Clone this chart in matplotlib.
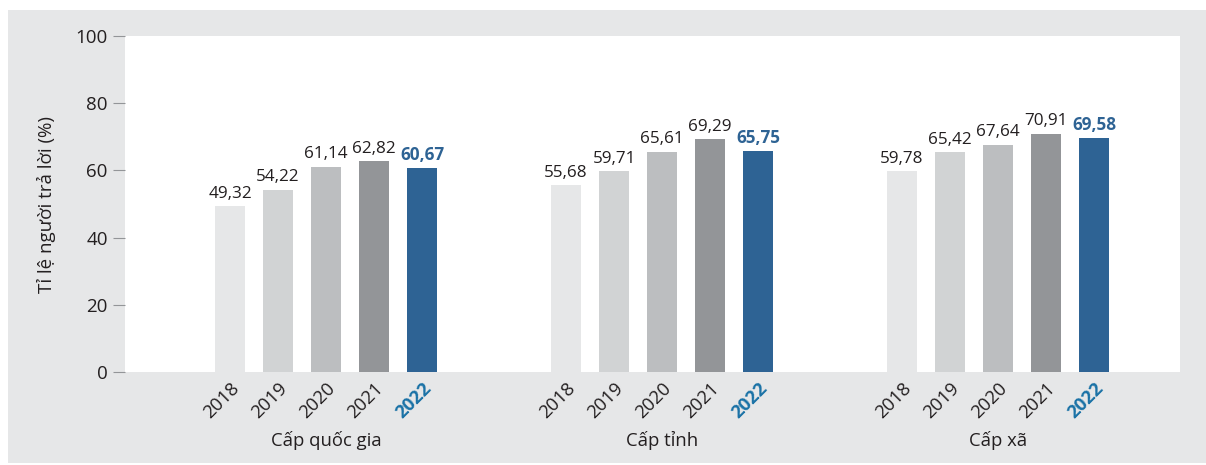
"""Tỉ lệ người trả lời theo cấp chính quyền, 2018-2022."""

import matplotlib

matplotlib.use("Agg")
import matplotlib.pyplot as plt
from matplotlib.patches import Rectangle

years = ["2018", "2019", "2020", "2021", "2022"]
groups = ["Cấp quốc gia", "Cấp tỉnh", "Cấp xã"]
values_quoc_gia = [49.32, 54.22, 61.14, 62.82, 60.67]
values_tinh = [55.68, 59.71, 65.61, 69.29, 65.75]
values_xa = [59.78, 65.42, 67.64, 70.91, 69.58]
y_ticks = [0, 20, 40, 60, 80, 100]

bar_colors = ["#e6e7e8", "#d1d3d4", "#bcbec0", "#939598", "#2e6394"]
BG = "#e6e7e8"
TEXT = "#231f20"
HIGHLIGHT_LABEL = "#2e6394"
HIGHLIGHT_TICK = "#1a72a6"

plt.rcParams["font.family"] = ["Open Sans", "DejaVu Sans"]

fig = plt.figure(figsize=(12.06, 4.65), dpi=100, facecolor="white")
fig.add_artist(
    Rectangle((8 / 1206, 2 / 465), 1 - 8 / 1206, 453 / 465,
              transform=fig.transFigure, facecolor=BG, edgecolor="none", zorder=-10)
)

ax = fig.add_axes([125 / 1206, 1 - 372 / 465, 1055 / 1206, (372 - 36) / 465])
ax.set_facecolor("white")

group_gap = 7
width = 0.625
all_values = [values_quoc_gia, values_tinh, values_xa]
positions = []
labels = []
for g, vals in enumerate(all_values):
    xs = [g * group_gap + i for i in range(len(years))]
    ax.bar(xs, vals, width=width, color=bar_colors, zorder=2)
    for i, (x, v) in enumerate(zip(xs, vals)):
        last = i == len(years) - 1
        ax.text(x, v + 1.3, f"{v:.2f}".replace(".", ","), ha="center", va="bottom",
                fontsize=12.3, color=HIGHLIGHT_LABEL if last else TEXT,
                fontweight="bold" if last else "normal")
    positions.extend(xs)
    labels.extend(years)
    ax.text(g * group_gap + 2, -0.205, groups[g], transform=ax.get_xaxis_transform(),
            ha="center", va="center", fontsize=13.3, color=TEXT)

ax.set_xlim(-2.19, -2.19 + 1055 / 48)
ax.set_ylim(0, 100)
ax.set_yticks(y_ticks)
ax.tick_params(axis="y", length=8.5, width=0.8, color="#939598", labelsize=13.5,
               labelcolor=TEXT, pad=4)
ax.set_xticks(positions)
ax.set_xticklabels(labels, rotation=45, ha="right", va="top", rotation_mode="anchor",
                   fontsize=13.3, color=TEXT)
ax.tick_params(axis="x", length=0, pad=5)
for i, lbl in enumerate(ax.get_xticklabels()):
    if i % len(years) == len(years) - 1:
        lbl.set_color(HIGHLIGHT_TICK)
        lbl.set_fontweight("bold")
for spine in ax.spines.values():
    spine.set_visible(False)

ax.set_ylabel("Tỉ lệ người trả lời (%)", fontsize=13.5, color=TEXT, labelpad=14)

fig.savefig("out.png", dpi=100, facecolor=fig.get_facecolor())
